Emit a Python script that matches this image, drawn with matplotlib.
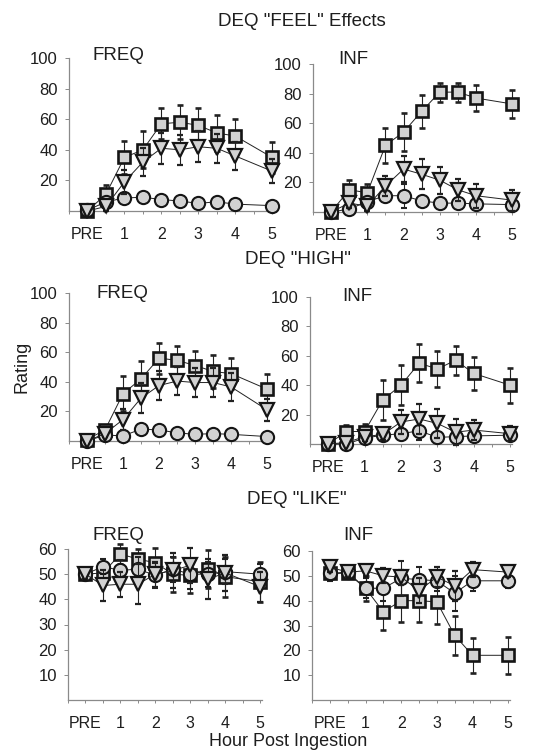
"""Recreate the DEQ rating time-course figure (FREQ vs INF panels)."""

from __future__ import annotations

import matplotlib

matplotlib.use("Agg")

import matplotlib.pyplot as plt

FIG_W, FIG_H, DPI = 551, 750, 100

HOURS = [0, 0.5, 1, 1.5, 2, 2.5, 3, 3.5, 4, 5]
HOUR_TICKS = [0, 1, 2, 3, 4, 5]
HOUR_TICK_LABELS = ["PRE", "1", "2", "3", "4", "5"]
MINOR_TICKS = [-0.5, 0.5, 1.5, 2.5, 3.5, 4.5]

# DEQ "FEEL" effects
feel_freq_sq = [0, 11, 35, 40, 57, 58, 56, 51, 49, 35]
feel_freq_sq_err = [1, 6, 11, 12, 10, 11, 11, 11.5, 11, 10]
feel_freq_tri = [0, 3, 19, 32, 41, 40, 42, 41, 36, 26]
feel_freq_tri_err = [1, 3, 8, 9, 10, 10, 10, 9.5, 9, 8]
feel_freq_circ = [0.5, 6, 8.5, 9, 7.5, 6.5, 5, 6, 4.5, 3.5]
feel_freq_circ_err = [1, 2, 2.5, 3, 2.5, 2, 2, 2, 2, 1.5]

feel_inf_sq = [0, 15, 13, 45, 54, 68, 81, 81, 77, 73]
feel_inf_sq_err = [1.5, 6.5, 6, 12, 13, 11, 6.5, 6.5, 8.5, 9.5]
feel_inf_tri = [0, 6, 4, 17.5, 29, 25.5, 21.5, 15, 11, 8]
feel_inf_tri_err = [1, 3, 3.5, 7, 9, 10, 9, 7.5, 8, 7]
feel_inf_circ = [0, 2, 7, 11, 11, 7.5, 6, 6, 5.5, 5]
feel_inf_circ_err = [1, 2, 3, 3, 8, 3, 2.5, 2.5, 3, 2.5]

# DEQ "HIGH"
high_freq_sq = [1, 7.5, 32, 42, 56, 54.5, 51, 47, 45.5, 35]
high_freq_sq_err = [2, 3, 12, 12, 10.5, 10, 10, 11, 10.5, 10]
high_freq_tri = [0, 5, 14.5, 29, 37.5, 40.5, 39.5, 39.5, 36.5, 21]
high_freq_tri_err = [1, 2, 7, 10, 9.5, 9.5, 9.5, 9.5, 9.5, 7.5]
high_freq_circ = [0, 4, 3.5, 8, 7.5, 5.5, 4.5, 5, 4.5, 3]
high_freq_circ_err = [1, 2, 2, 2.5, 2.5, 2, 2, 2, 2, 1.5]

high_inf_sq = [0, 8.5, 8.5, 30, 40, 55, 51, 57, 48, 40]
high_inf_sq_err = [1.5, 4.5, 5, 13.5, 13.5, 13, 12, 10, 11.5, 12]
high_inf_tri = [0, 1, 5, 6.5, 15, 17, 14, 8, 9.5, 7]
high_inf_tri_err = [1, 1.5, 3, 3.5, 8, 10, 10, 9, 7, 5]
high_inf_circ = [0, 0, 4, 6, 7, 9, 4.5, 5, 5.5, 6]
high_inf_circ_err = [1, 1, 2, 3, 4, 6, 3, 3, 3, 3]

# DEQ "LIKE"
like_freq_sq = [50, 50.5, 58, 56, 54.5, 50, 49.5, 52, 49, 47]
like_freq_sq_err = [2, 3, 4, 4, 6, 7, 7, 7.5, 8, 8]
like_freq_tri = [50, 45.5, 46, 46, 50, 51.5, 53.5, 48, 50.5, 45]
like_freq_tri_err = [2, 6, 5, 8, 5, 7, 7, 8, 7, 6]
like_freq_circ = [50, 53, 51.5, 52, 49.5, 52, 50, 50, 51, 50]
like_freq_circ_err = [2, 3, 4, 5, 5, 5, 6, 5, 5, 4]

like_inf_sq = [51, 51, 45, 35.5, 40, 40, 39.5, 26, 18, 18]
like_inf_sq_err = [2, 2, 5, 7.5, 8.5, 8.5, 9, 8, 7, 7.5]
like_inf_tri = [53.5, 51.5, 52, 50, 49.5, 44, 49.5, 46, 52.5, 51.5]
like_inf_tri_err = [2, 2, 2, 3, 3, 5, 4, 6, 3, 2]
like_inf_circ = [51, 51.5, 45, 45, 49, 48.5, 48, 43, 48, 48]
like_inf_circ_err = [3, 2, 4, 5, 7, 5, 4, 7, 4, 3]

TEXT_COLOR = "#1e1e1e"
SPINE_COLOR = "#8a8a8a"
FILL = "#d2d2d2"


def px_axes(fig, left, right, top, bottom):
    """Add an axes given its box in pixel coordinates (origin top-left)."""

    return fig.add_axes(
        [
            left / FIG_W,
            1 - bottom / FIG_H,
            (right - left) / FIG_W,
            (bottom - top) / FIG_H,
        ]
    )


def px_text(fig, x, y, s, **kwargs):
    """Place figure text at a pixel position (origin top-left)."""

    fig.text(x / FIG_W, 1 - y / FIG_H, s, color=TEXT_COLOR, **kwargs)


def draw_panel(ax, series, ylim, yticks):
    """Draw one panel: squares, circles and triangles with error bars."""

    styles = {
        "sq": dict(marker="s", ms=9, mew=1.9, zorder=3),
        "circ": dict(marker="o", ms=9.5, mew=1.5, zorder=4),
        "tri": dict(marker="v", ms=10, mew=1.6, zorder=5),
    }
    for key in ("sq", "circ", "tri"):
        values, errors = series[key]
        style = styles[key]
        ax.errorbar(
            HOURS,
            values,
            yerr=errors,
            color="#222222",
            linewidth=0.7,
            elinewidth=0.8,
            capsize=2,
            capthick=0.8,
            marker=style["marker"],
            markersize=style["ms"],
            markerfacecolor=FILL,
            markeredgecolor="#151515",
            markeredgewidth=style["mew"],
            zorder=style["zorder"],
            clip_on=False,
        )

    ax.set_xlim(-0.5, 5.05)
    ax.set_ylim(*ylim)
    ax.set_xticks(HOUR_TICKS)
    ax.set_xticklabels(HOUR_TICK_LABELS)
    ax.set_xticks(MINOR_TICKS, minor=True)
    ax.set_yticks(yticks)
    ax.set_yticklabels([str(t) for t in yticks])
    for side in ("top", "right"):
        ax.spines[side].set_visible(False)
    for side in ("left", "bottom"):
        ax.spines[side].set_color(SPINE_COLOR)
        ax.spines[side].set_linewidth(0.9)
    ax.tick_params(
        axis="x", which="both", direction="out", length=2.5, width=0.7,
        color=SPINE_COLOR, pad=9, labelsize=11.5, labelcolor=TEXT_COLOR,
    )
    ax.tick_params(
        axis="y", direction="out", length=3, width=0.7,
        color=SPINE_COLOR, pad=5, labelsize=12, labelcolor=TEXT_COLOR,
    )
    ax.set_facecolor("none")


def main() -> None:
    plt.rcParams["font.family"] = ["Liberation Sans", "DejaVu Sans"]
    fig = plt.figure(figsize=(FIG_W / DPI, FIG_H / DPI), dpi=DPI)

    rating_ticks = [20, 40, 60, 80, 100]
    like_ticks = [10, 20, 30, 40, 50, 60]

    panels = [
        # (box, series, ylim, yticks)
        ((69, 274, 58, 211), {
            "sq": (feel_freq_sq, feel_freq_sq_err),
            "tri": (feel_freq_tri, feel_freq_tri_err),
            "circ": (feel_freq_circ, feel_freq_circ_err),
        }, (0, 100), rating_ticks),
        ((313, 514, 64, 212), {
            "sq": (feel_inf_sq, feel_inf_sq_err),
            "tri": (feel_inf_tri, feel_inf_tri_err),
            "circ": (feel_inf_circ, feel_inf_circ_err),
        }, (0, 100), rating_ticks),
        ((69, 269, 293, 441), {
            "sq": (high_freq_sq, high_freq_sq_err),
            "tri": (high_freq_tri, high_freq_tri_err),
            "circ": (high_freq_circ, high_freq_circ_err),
        }, (0, 100), rating_ticks),
        ((310, 512, 297, 444), {
            "sq": (high_inf_sq, high_inf_sq_err),
            "tri": (high_inf_tri, high_inf_tri_err),
            "circ": (high_inf_circ, high_inf_circ_err),
        }, (0, 100), rating_ticks),
        ((68, 262, 549, 700), {
            "sq": (like_freq_sq, like_freq_sq_err),
            "tri": (like_freq_tri, like_freq_tri_err),
            "circ": (like_freq_circ, like_freq_circ_err),
        }, (0, 60), like_ticks),
        ((312, 510, 551, 700), {
            "sq": (like_inf_sq, like_inf_sq_err),
            "tri": (like_inf_tri, like_inf_tri_err),
            "circ": (like_inf_circ, like_inf_circ_err),
        }, (0, 60), like_ticks),
    ]
    for (left, right, top, bottom), series, ylim, yticks in panels:
        ax = px_axes(fig, left, right, top, bottom)
        draw_panel(ax, series, ylim, yticks)

    px_text(fig, 302, 22, 'DEQ "FEEL" Effects', fontsize=13.5, ha="center", va="center")
    px_text(fig, 298, 260, 'DEQ "HIGH"', fontsize=13.5, ha="center", va="center")
    px_text(fig, 297, 500, 'DEQ "LIKE"', fontsize=13.5, ha="center", va="center")

    for x, y, label in [
        (118, 55, "FREQ"), (353, 60, "INF"),
        (122, 293, "FREQ"), (357, 296, "INF"),
        (118, 535, "FREQ"), (358, 535, "INF"),
    ]:
        px_text(fig, x, y, label, fontsize=13.5, ha="center", va="center")

    px_text(fig, 288, 742, "Hour Post Ingestion", fontsize=13, ha="center", va="center")
    px_text(fig, 22, 367, "Rating", fontsize=13, ha="center", va="center", rotation=90)

    fig.savefig("out.png", dpi=DPI, facecolor="white")
    plt.close(fig)


if __name__ == "__main__":
    main()
